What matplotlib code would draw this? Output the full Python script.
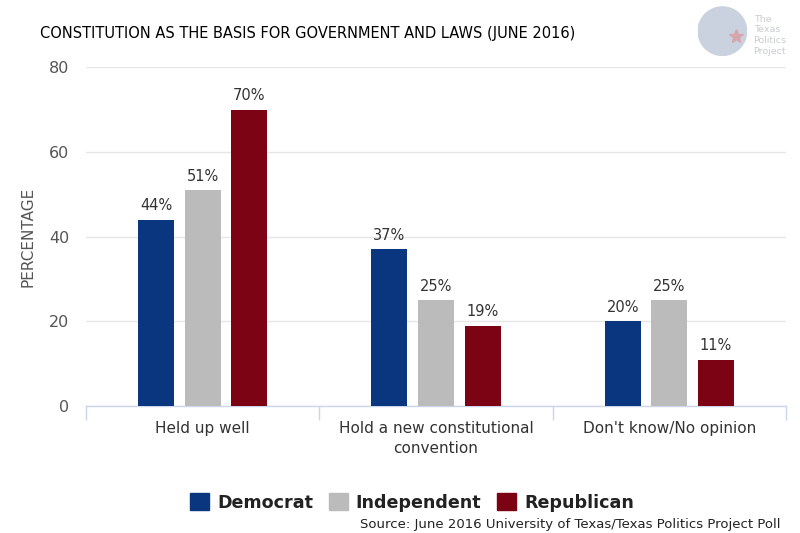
import numpy as np
import matplotlib
matplotlib.use("Agg")
import matplotlib.pyplot as plt
import matplotlib.patches as mpatches

categories = ["Held up well", "Hold a new constitutional\nconvention", "Don't know/No opinion"]
parties = ["Democrat", "Independent", "Republican"]
democrat = [44, 37, 20]
independent = [51, 25, 25]
republican = [70, 19, 11]
colors = ["#0a357f", "#bbbbbb", "#7b0313"]

series = [democrat, independent, republican]

fig = plt.figure(figsize=(8, 5.33), dpi=100)
ax = fig.add_axes([0.1075, 0.238, 0.875, 0.636])

x = np.arange(len(categories))
width = 0.155
pitch = 0.2
for i, (name, vals, c) in enumerate(zip(parties, series, colors)):
    xs = x + (i - 1) * pitch
    bars = ax.bar(xs, vals, width=width, color=c, label=name, zorder=3)
    for b, v in zip(bars, vals):
        ax.text(b.get_x() + b.get_width() / 2, v + 1.5, "{}%".format(v),
                ha="center", va="bottom", fontsize=10.5, color="#333333")

ax.set_xlim(-0.5, 2.5)
ax.set_ylim(0, 80)
ax.set_yticks([0, 20, 40, 60, 80])
ax.yaxis.grid(True, color="#e6e6e6", linewidth=1, zorder=0)
ax.tick_params(axis="y", length=0, labelsize=11.5, labelcolor="#555555", pad=12)

ax.set_xticks([-0.5, 0.5, 1.5, 2.5])
ax.set_xticklabels([])
ax.set_xticks(x, minor=True)
ax.set_xticklabels(categories, minor=True, fontsize=11, color="#333333", linespacing=1.35)
ax.tick_params(axis="x", which="major", length=10, color="#ccd6eb", width=1)
ax.tick_params(axis="x", which="minor", length=0, pad=11)

for s in ["top", "right", "left"]:
    ax.spines[s].set_visible(False)
ax.spines["bottom"].set_color("#ccd6eb")
ax.spines["bottom"].set_linewidth(1)

ax.set_ylabel("PERCENTAGE", fontsize=11, color="#555555", labelpad=10)

fig.text(0.05, 0.937, "CONSTITUTION AS THE BASIS FOR GOVERNMENT AND LAWS (JUNE 2016)",
         fontsize=10.5, color="#000000", va="center")

handles = [mpatches.Patch(color=c, label=p) for p, c in zip(parties, colors)]
leg = fig.legend(handles=handles, loc="center", bbox_to_anchor=(0.515, 0.057),
                 ncol=3, frameon=False, prop={"weight": "bold", "size": 12.6},
                 handlelength=1.1, handleheight=1.1, handletextpad=0.45, columnspacing=0.9)
for t in leg.get_texts():
    t.set_color("#222222")

fig.text(0.975, 0.004, "Source: June 2016 University of Texas/Texas Politics Project Poll",
         fontsize=9.5, ha="right", va="bottom", color="#222222")

# logo
lax = fig.add_axes([0.872, 0.895, 0.062, 0.093])
lax.set_xlim(0, 1)
lax.set_ylim(0, 1)
lax.set_aspect("equal")
lax.axis("off")
lax.add_patch(mpatches.Circle((0.5, 0.5), 0.49, color="#c9d2de"))
lax.plot([0.78], [0.4], marker="*", markersize=10, color="#d6a6ad")
fig.text(0.942, 0.934, "The\nTexas\nPolitics\nProject", fontsize=6.8,
         color="#c8ccd2", va="center", ha="left", linespacing=1.25)

fig.savefig("out.png", dpi=100)
